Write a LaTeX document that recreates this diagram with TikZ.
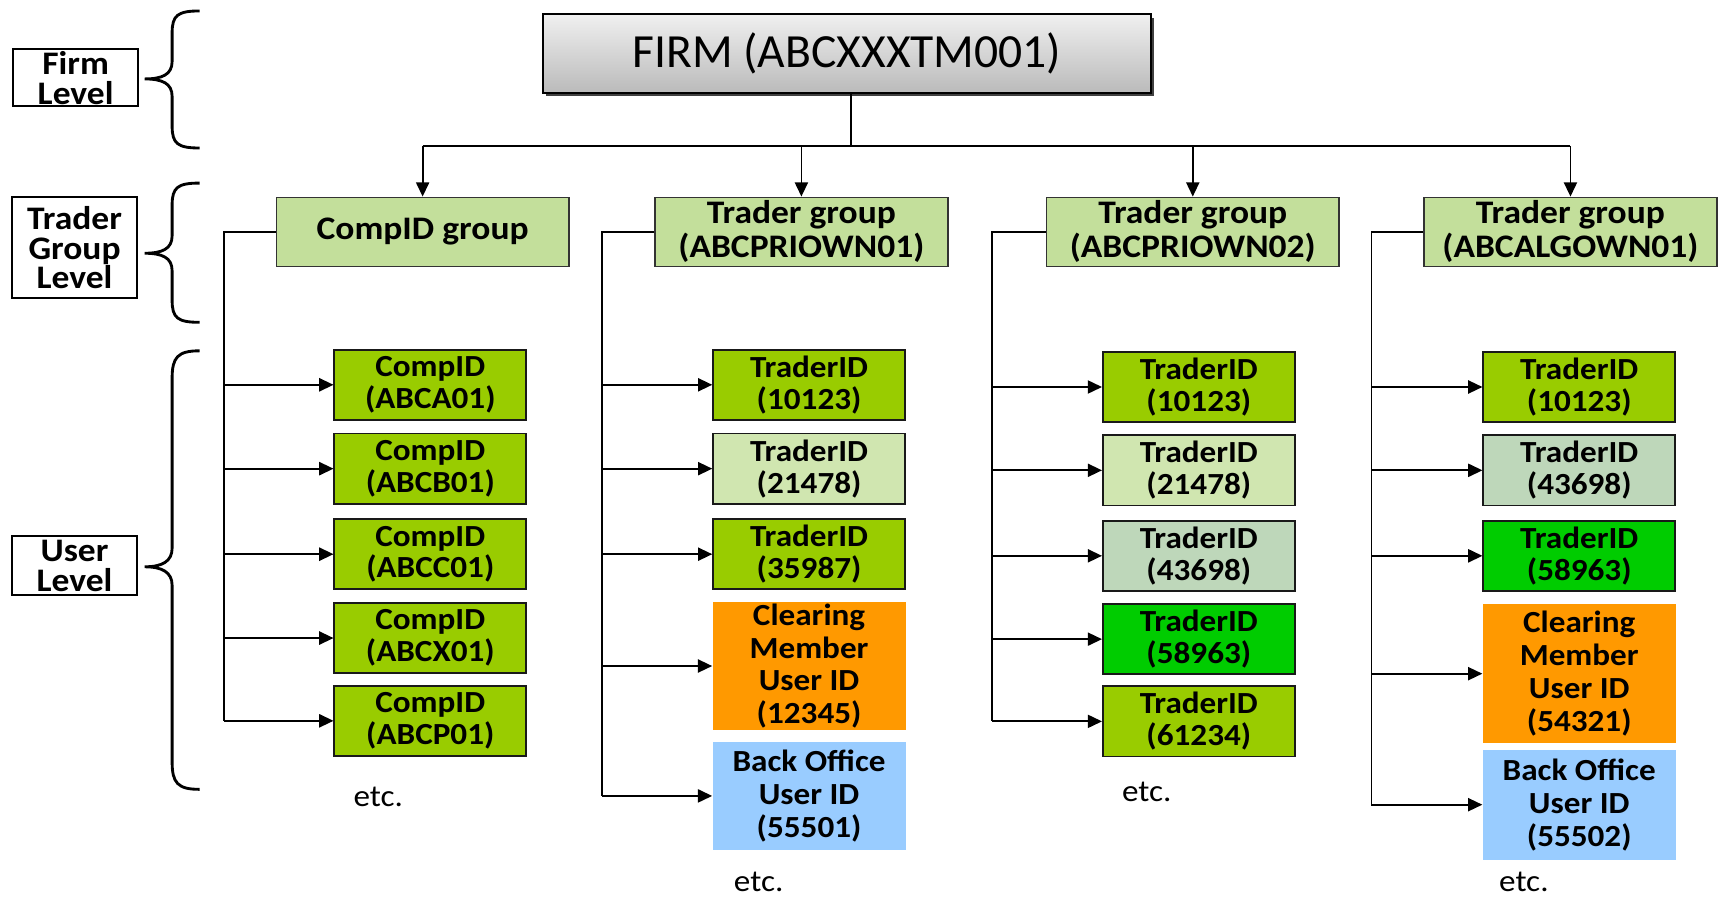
\documentclass[tikz,border=0pt]{standalone}
\usepackage{fontspec}
\setmainfont[FakeStretch=1.08]{Carlito}
\newfontfamily\firmfont{Carlito}
\usetikzlibrary{arrows.meta,shadows}
\definecolor{grpgreen}{RGB}{195,223,155}
\definecolor{ygreen}{RGB}{153,204,0}
\definecolor{lgreen}{RGB}{208,230,176}
\definecolor{ggreen}{RGB}{190,215,186}
\definecolor{bgreen}{RGB}{0,204,0}
\definecolor{orangebox}{RGB}{255,153,0}
\definecolor{bluebox}{RGB}{153,204,255}
\begin{document}
\begin{tikzpicture}[x=0.5pt,y=-0.5pt,
  firmbox/.style={draw=black,line width=0.9pt,top color=black!6,bottom color=black!27,
    minimum width=277.5pt,minimum height=36pt,inner sep=0pt,
    font=\firmfont\fontsize{21.7}{25}\selectfont,
    drop shadow={shadow xshift=1.3pt,shadow yshift=-1.5pt,opacity=0.75,fill=black}},
  grp/.style={draw=black!80,fill=grpgreen,line width=0.7pt,minimum width=133.5pt,
    minimum height=31.5pt,inner sep=0pt,align=center,
    font=\bfseries\fontsize{15}{15.5}\selectfont},
  child/.style={draw=black!90,line width=0.8pt,minimum width=87.5pt,minimum height=32pt,
    inner sep=0pt,align=center,font=\bfseries\fontsize{14}{14.5}\selectfont},
  tall/.style={minimum width=88pt,inner sep=0pt,align=center,
    font=\bfseries\fontsize{14}{15}\selectfont},
  lvl/.style={draw=black,line width=0.8pt,fill=white,inner sep=0pt,align=center,
    minimum width=57pt,font=\bfseries\fontsize{15}{13.5}\selectfont},
  conn/.style={line width=0.8pt,black},
  arr/.style={line width=0.8pt,black,-{Triangle[length=6.5pt,width=6pt]}},
  brace/.style={line width=1.3pt,black},
  etc/.style={font=\fontsize{14}{14}\selectfont}
]
\useasboundingbox (0,0) rectangle (1568,819);

% level labels
\node[lvl,minimum height=26pt] (lf) at (69,71) {Firm\\Level};
\node[lvl,minimum height=46pt] (lt) at (68,226) {Trader\\Group\\Level};
\node[lvl,minimum height=27pt] (lu) at (68,516) {User\\Level};

% braces
\draw[brace] (182,10) .. controls (162,10) and (157,14) .. (157,30) -- (157,56)
  .. controls (157,68) and (148,72) .. (132,72)
  .. controls (148,72) and (157,76) .. (157,88) -- (157,115)
  .. controls (157,131) and (162,135) .. (182,135);
\draw[brace] (182,167) .. controls (162,167) and (157,171) .. (157,187) -- (157,215)
  .. controls (157,227) and (148,231) .. (132,231)
  .. controls (148,231) and (157,235) .. (157,247) -- (157,274)
  .. controls (157,290) and (162,294) .. (182,294);
\draw[brace] (182,320) .. controls (162,320) and (157,326) .. (157,345) -- (157,500)
  .. controls (157,512) and (148,517) .. (132,517)
  .. controls (148,517) and (157,522) .. (157,534) -- (157,695)
  .. controls (157,714) and (162,720) .. (182,720);

% firm
\node[firmbox] (firm) at (772.5,49) {FIRM (ABCXXXTM001)};

% groups
\node[grp] (g1) at (385.5,211.5) {CompID group};
\node[grp] (g2) at (731,211.5) {Trader group\\(ABCPRIOWN01)};
\node[grp] (g3) at (1088,211.5) {Trader group\\(ABCPRIOWN02)};
\node[grp] (g4) at (1432.5,211.5) {Trader group\\(ABCALGOWN01)};

\coordinate (bus) at (776,133);
\draw[conn] (firm.south -| bus) -- (bus);
\draw[conn] (g1.north |- bus) -- (g4.north |- bus);
\foreach \g in {g1,g2,g3,g4} \draw[arr] (\g.north |- bus) -- (\g.north);

% column 1
\node[child,fill=ygreen] (a1) at (392.5,351) {CompID\\(ABCA01)};
\node[child,fill=ygreen] (a2) at (392.5,427.5) {CompID\\(ABCB01)};
\node[child,fill=ygreen] (a3) at (392.5,505.5) {CompID\\(ABCC01)};
\node[child,fill=ygreen] (a4) at (392.5,582) {CompID\\(ABCX01)};
\node[child,fill=ygreen] (a5) at (392.5,657.5) {CompID\\(ABCP01)};
% column 2
\node[child,fill=ygreen] (b1) at (738,351) {TraderID\\(10123)};
\node[child,fill=lgreen] (b2) at (738,427.5) {TraderID\\(21478)};
\node[child,fill=ygreen] (b3) at (738,505.5) {TraderID\\(35987)};
\node[tall,fill=orangebox,minimum height=58.5pt] (b4) at (738,607.5) {Clearing\\Member\\User ID\\(12345)};
\node[tall,fill=bluebox,minimum height=49pt] (b5) at (738,726) {Back Office\\User ID\\(55501)};
% column 3
\node[child,fill=ygreen] (c1) at (1093.5,353) {TraderID\\(10123)};
\node[child,fill=lgreen] (c2) at (1093.5,429) {TraderID\\(21478)};
\node[child,fill=ggreen] (c3) at (1093.5,507) {TraderID\\(43698)};
\node[child,fill=bgreen] (c4) at (1093.5,583) {TraderID\\(58963)};
\node[child,fill=ygreen] (c5) at (1093.5,658) {TraderID\\(61234)};
% column 4
\node[child,fill=ygreen] (d1) at (1440.5,353) {TraderID\\(10123)};
\node[child,fill=ggreen] (d2) at (1440.5,429) {TraderID\\(43698)};
\node[child,fill=bgreen] (d3) at (1440.5,507) {TraderID\\(58963)};
\node[tall,fill=orangebox,minimum height=63.5pt] (d4) at (1440.5,614.5) {Clearing\\Member\\User ID\\(54321)};
\node[tall,fill=bluebox,minimum height=50pt] (d5) at (1440.5,734) {Back Office\\User ID\\(55502)};

% spines
\coordinate (s1) at (204,0);
\coordinate (s2) at (549,0);
\coordinate (s3) at (905,0);
\coordinate (s4) at (1251,0);
\draw[conn] (g1.west) -- (s1 |- g1.west) -- (s1 |- a5.west);
\draw[conn] (g2.west) -- (s2 |- g2.west) -- (s2 |- b5.west);
\draw[conn] (g3.west) -- (s3 |- g3.west) -- (s3 |- c5.west);
\draw[conn] (g4.west) -- (s4 |- g4.west) -- (s4 |- d5.west);
\foreach \n in {a1,a2,a3,a4,a5} \draw[arr] (s1 |- \n.west) -- (\n.west);
\foreach \n in {b1,b2,b3,b4,b5} \draw[arr] (s2 |- \n.west) -- (\n.west);
\foreach \n in {c1,c2,c3,c4,c5} \draw[arr] (s3 |- \n.west) -- (\n.west);
\foreach \n in {d1,d2,d3,d4,d5} \draw[arr] (s4 |- \n.west) -- (\n.west);

% etc.
\node[etc] (e1) at (345,727) {etc.};
\node[etc] (e2) at (692,804) {etc.};
\node[etc] (e3) at (1046,722) {etc.};
\node[etc] (e4) at (1390,804) {etc.};
\end{tikzpicture}
\end{document}
